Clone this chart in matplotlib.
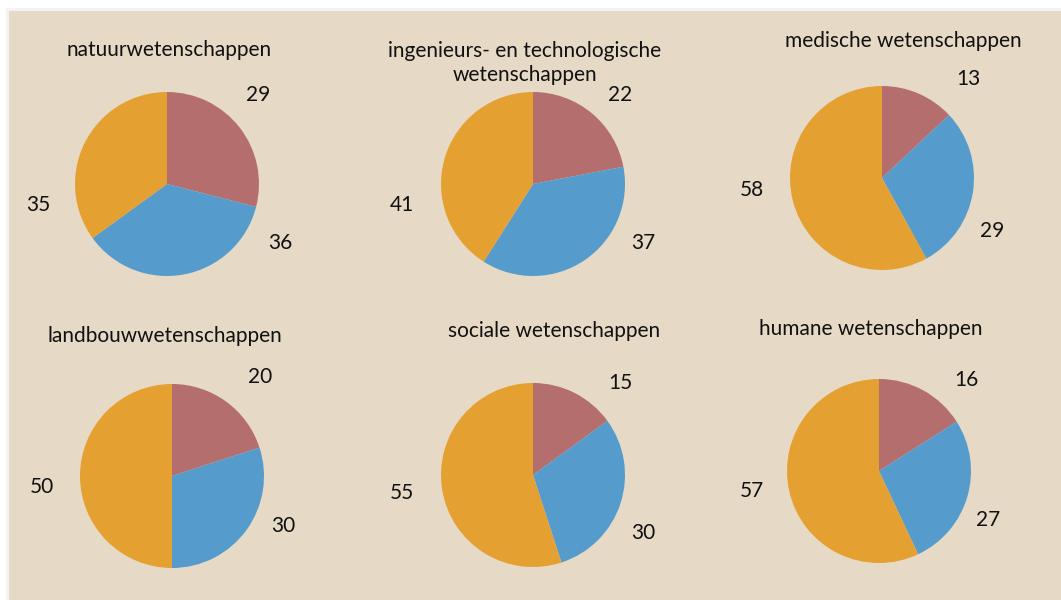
import matplotlib.pyplot as plt
from matplotlib.patches import Rectangle

# Data (percentages)
titles = [
    "natuurwetenschappen",
    "ingenieurs- en technologische\nwetenschappen",
    "medische wetenschappen",
    "landbouwwetenschappen",
    "sociale wetenschappen",
    "humane wetenschappen",
]
share_red = [29, 22, 13, 20, 15, 16]
share_blue = [36, 37, 29, 30, 30, 27]
share_orange = [35, 41, 58, 50, 55, 57]

colors = ["#b46e6e", "#559bcc", "#e4a030"]
bg = "#e6dac6"

plt.rcParams['font.family'] = ['Lato', 'DejaVu Sans']

fig = plt.figure(figsize=(10.61, 6.0), dpi=100)
fig.patch.set_facecolor("white")
# beige panel with faint shadow on top/left
fig.patches.append(Rectangle((6 / 1061, 0), 1, 1 - 8 / 600, transform=fig.transFigure,
                             facecolor="#f3f3f3", edgecolor="none", zorder=-2))
fig.patches.append(Rectangle((9 / 1061, 0), 1, 1 - 11 / 600, transform=fig.transFigure,
                             facecolor=bg, edgecolor="none", zorder=-1))

ax = fig.add_axes([0, 0, 1, 1])
ax.set_zorder(5)

# layout in pixels (top-left origin)
centers = [(167, 184), (533, 184), (882, 178), (172, 476), (533, 475), (879, 471)]
title_pos = [(169, 50), (525, 63), (903, 41), (165, 336), (554, 331), (871, 329)]
label_off = [
    [(91, -89), (113, 59), (-129, 21)],
    [(87, -89), (110, 59), (-131, 21)],
    [(86, -99), (110, 53), (-130, 12)],
    [(88, -99), (111, 50), (-130, 11)],
    [(87, -92), (110, 58), (-131, 18)],
    [(87, -91), (109, 49), (-127, 20)],
]
R = 92

for i, t in enumerate(titles):
    vals = [share_red[i], share_blue[i], share_orange[i]]
    cx, cy = centers[i]
    ax.pie(vals, colors=colors, startangle=90, counterclock=False,
           center=(cx, 600 - cy), radius=R, frame=True,
           wedgeprops=dict(linewidth=0))
    tx, ty = title_pos[i]
    ax.text(tx, 600 - ty, t, ha="center", va="center", fontsize=15,
            color="#111111", linespacing=1.25)
    for v, (dx, dy) in zip(vals, label_off[i]):
        ax.text(cx + dx, 600 - (cy + dy), str(v), ha="center", va="center",
                fontsize=15, color="#111111")

ax.set_xlim(0, 1061)
ax.set_ylim(0, 600)
ax.set_aspect("equal")
ax.axis("off")

fig.savefig("out.png", dpi=100, facecolor=fig.get_facecolor())
